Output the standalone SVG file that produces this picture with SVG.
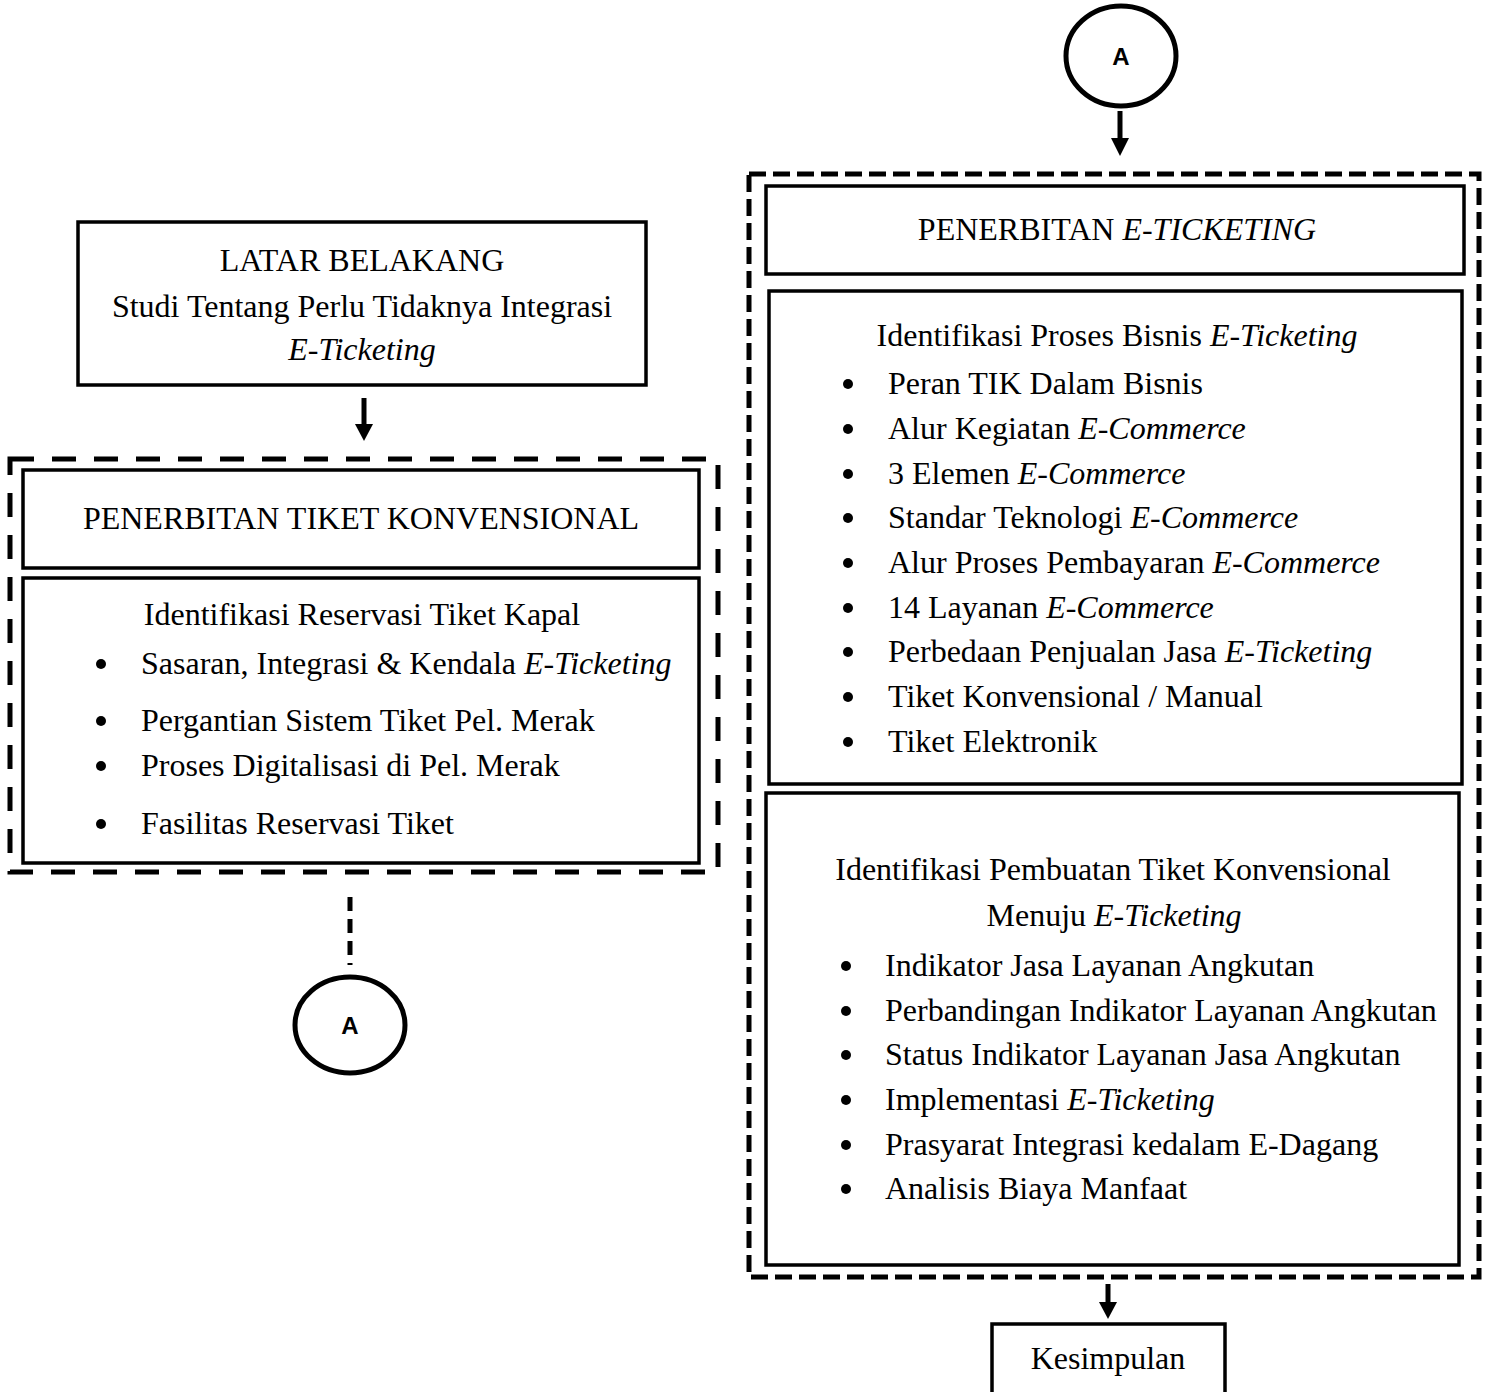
<svg xmlns="http://www.w3.org/2000/svg" width="1486" height="1392" viewBox="0 0 1486 1392">
  <defs>
    <style>
      .box { fill: #fff; stroke: #000; stroke-width: 3.5; }
      .dashL { fill: none; stroke: #000; stroke-width: 5; stroke-dasharray: 24 18; }
      .dashR { fill: none; stroke: #000; stroke-width: 5; stroke-dasharray: 17 7; }
      .t { font-family: "Liberation Serif", "Times New Roman", serif; font-size: 32px; fill: #000; }
      .c { text-anchor: middle; }
      .i { font-style: italic; }
      .lbl { font-family: "Liberation Sans", Arial, sans-serif; font-weight: bold; font-size: 24px; text-anchor: middle; }
      .circ { fill: #fff; stroke: #000; stroke-width: 5; }
      .line { stroke: #000; stroke-width: 5; fill: none; }
    </style>
  </defs>

  <!-- left column -->
  <g id="latar-belakang">
    <rect class="box" x="78" y="222" width="568" height="163"/>
    <text class="t c" x="362" y="271">LATAR BELAKANG</text>
    <text class="t c" x="362" y="317">Studi Tentang Perlu Tidaknya Integrasi</text>
    <text class="t c i" x="362" y="360">E-Ticketing</text>
  </g>

  <g id="konvensional-group">
    <rect class="dashL" x="10" y="459" width="708" height="413"/>
  </g>

  <g id="tiket-konvensional">
    <rect class="box" x="23" y="470" width="676" height="98"/>
    <text class="t c" x="361" y="529">PENERBITAN TIKET KONVENSIONAL</text>
  </g>

  <g id="reservasi-tiket">
    <rect class="box" x="23" y="578" width="676" height="285"/>
    <text class="t c" x="362" y="625">Identifikasi Reservasi Tiket Kapal</text>
    <circle cx="101" cy="664" r="5"/>
    <text class="t" x="141" y="674">Sasaran, Integrasi &amp; Kendala <tspan class="i">E-Ticketing</tspan></text>
    <circle cx="101" cy="721" r="5"/>
    <text class="t" x="141" y="731">Pergantian Sistem Tiket Pel. Merak</text>
    <circle cx="101" cy="766" r="5"/>
    <text class="t" x="141" y="776">Proses Digitalisasi di Pel. Merak</text>
    <circle cx="101" cy="824" r="5"/>
    <text class="t" x="141" y="834">Fasilitas Reservasi Tiket</text>
  </g>

  <g id="connector-a-left">
    <ellipse class="circ" cx="350" cy="1025" rx="55" ry="48"/>
    <text class="lbl" x="350" y="1034">A</text>
  </g>

  <!-- right column -->
  <g id="connector-a-right">
    <ellipse class="circ" cx="1121" cy="56" rx="55" ry="50"/>
    <text class="lbl" x="1121" y="65">A</text>
  </g>

  <g id="eticketing-group">
    <rect class="dashR" x="749" y="174" width="730" height="1103"/>
  </g>

  <g id="penerbitan-eticketing">
    <rect class="box" x="766" y="186" width="698" height="88"/>
    <text class="t c" x="1117" y="240">PENERBITAN <tspan class="i">E-TICKETING</tspan></text>
  </g>

  <g id="proses-bisnis">
    <rect class="box" x="769" y="291" width="693" height="493"/>
    <text class="t c" x="1117" y="346">Identifikasi Proses Bisnis <tspan class="i">E-Ticketing</tspan></text>
    <circle cx="848" cy="384" r="5"/>
    <text class="t" x="888" y="394">Peran TIK Dalam Bisnis</text>
    <circle cx="848" cy="429" r="5"/>
    <text class="t" x="888" y="439">Alur Kegiatan <tspan class="i">E-Commerce</tspan></text>
    <circle cx="848" cy="474" r="5"/>
    <text class="t" x="888" y="484">3 Elemen <tspan class="i">E-Commerce</tspan></text>
    <circle cx="848" cy="518" r="5"/>
    <text class="t" x="888" y="528">Standar Teknologi <tspan class="i">E-Commerce</tspan></text>
    <circle cx="848" cy="563" r="5"/>
    <text class="t" x="888" y="573">Alur Proses Pembayaran <tspan class="i">E-Commerce</tspan></text>
    <circle cx="848" cy="608" r="5"/>
    <text class="t" x="888" y="618">14 Layanan <tspan class="i">E-Commerce</tspan></text>
    <circle cx="848" cy="652" r="5"/>
    <text class="t" x="888" y="662">Perbedaan Penjualan Jasa <tspan class="i">E-Ticketing</tspan></text>
    <circle cx="848" cy="697" r="5"/>
    <text class="t" x="888" y="707">Tiket Konvensional / Manual</text>
    <circle cx="848" cy="742" r="5"/>
    <text class="t" x="888" y="752">Tiket Elektronik</text>
  </g>

  <g id="pembuatan-tiket">
    <rect class="box" x="766" y="793" width="693" height="472"/>
    <text class="t c" x="1113" y="880">Identifikasi Pembuatan Tiket Konvensional</text>
    <text class="t c" x="1114" y="926">Menuju <tspan class="i">E-Ticketing</tspan></text>
    <circle cx="846" cy="966" r="5"/>
    <text class="t" x="885" y="976">Indikator Jasa Layanan Angkutan</text>
    <circle cx="846" cy="1011" r="5"/>
    <text class="t" x="885" y="1021">Perbandingan Indikator Layanan Angkutan</text>
    <circle cx="846" cy="1055" r="5"/>
    <text class="t" x="885" y="1065">Status Indikator Layanan Jasa Angkutan</text>
    <circle cx="846" cy="1100" r="5"/>
    <text class="t" x="885" y="1110">Implementasi <tspan class="i">E-Ticketing</tspan></text>
    <circle cx="846" cy="1145" r="5"/>
    <text class="t" x="885" y="1155">Prasyarat Integrasi kedalam E-Dagang</text>
    <circle cx="846" cy="1189" r="5"/>
    <text class="t" x="885" y="1199">Analisis Biaya Manfaat</text>
  </g>

  <g id="kesimpulan">
    <rect class="box" x="992" y="1324" width="233" height="90"/>
    <text class="t c" x="1108" y="1369">Kesimpulan</text>
  </g>

  <!-- connectors -->
  <g id="connectors">
    <line class="line" x1="364" y1="398" x2="364" y2="426"/>
    <path d="M355,424 L373,424 L364,441 Z" fill="#000"/>
    <line class="line" x1="350" y1="897" x2="350" y2="965" stroke-dasharray="14 8"/>
    <line class="line" x1="1120" y1="111" x2="1120" y2="140"/>
    <path d="M1111,138 L1129,138 L1120,156 Z" fill="#000"/>
    <line class="line" x1="1108" y1="1284" x2="1108" y2="1304"/>
    <path d="M1099,1302 L1117,1302 L1108,1319 Z" fill="#000"/>
  </g>
</svg>
